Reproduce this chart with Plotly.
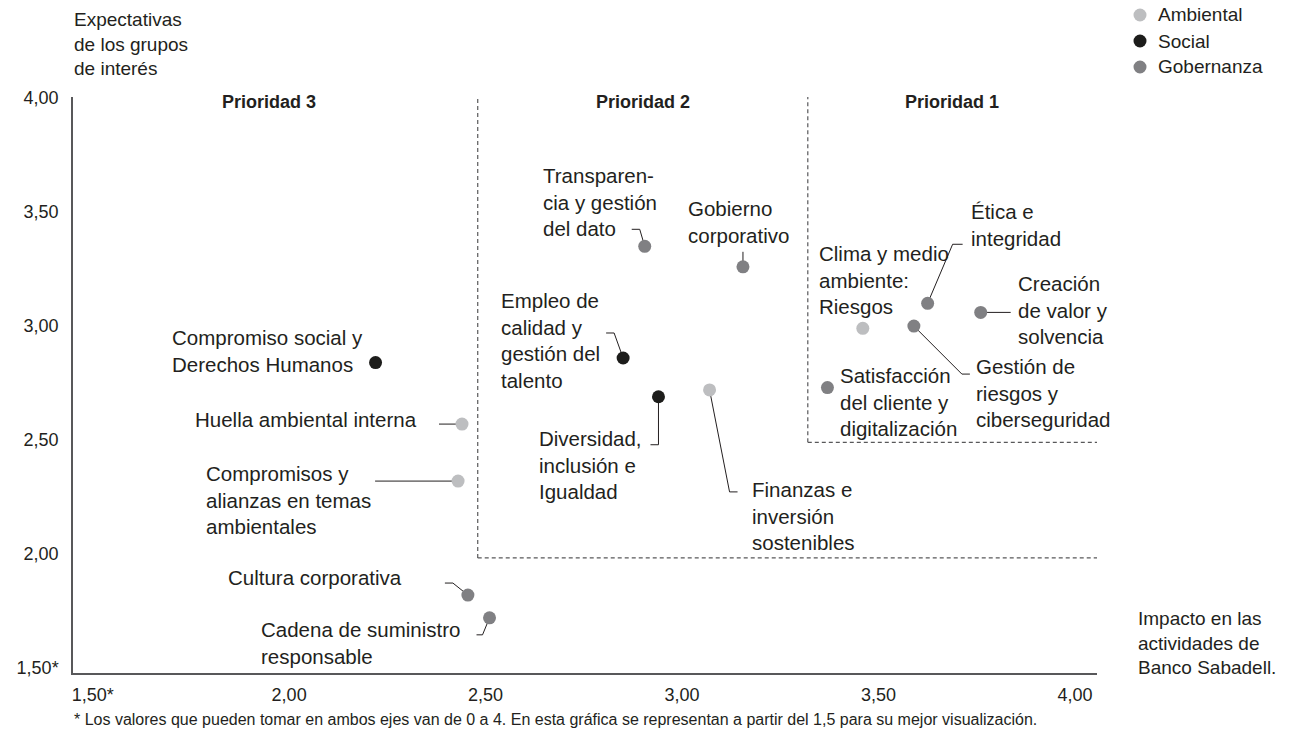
import plotly.graph_objects as go

# --- data -------------------------------------------------------------
dimensiones = ["Ambiental", "Social", "Gobernanza"]
colores = {"Ambiental": "#bdbec0", "Social": "#1d1d1b", "Gobernanza": "#808083"}

asuntos = [
    "Transparencia y gestión del dato",
    "Gobierno corporativo",
    "Ética e integridad",
    "Creación de valor y solvencia",
    "Clima y medio ambiente: Riesgos",
    "Gestión de riesgos y ciberseguridad",
    "Satisfacción del cliente y digitalización",
    "Empleo de calidad y gestión del talento",
    "Diversidad, inclusión e Igualdad",
    "Finanzas e inversión sostenibles",
    "Compromiso social y Derechos Humanos",
    "Huella ambiental interna",
    "Compromisos y alianzas en temas ambientales",
    "Cultura corporativa",
    "Cadena de suministro responsable",
]
impacto = [2.905, 3.155, 3.625, 3.76, 3.46, 3.59, 3.37,
           2.85, 2.94, 3.07, 2.22, 2.44, 2.43, 2.455, 2.51]
expectativas = [3.35, 3.26, 3.10, 3.06, 2.99, 3.00, 2.73,
                2.86, 2.69, 2.72, 2.84, 2.57, 2.32, 1.82, 1.72]
dimension = ["Gobernanza", "Gobernanza", "Gobernanza", "Gobernanza", "Ambiental",
             "Gobernanza", "Gobernanza", "Social", "Social", "Ambiental",
             "Social", "Ambiental", "Ambiental", "Gobernanza", "Gobernanza"]

etiquetas = [
    "Transparen-<br>cia y gestión<br>del dato",
    "Gobierno<br>corporativo",
    "Ética e<br>integridad",
    "Creación<br>de valor y<br>solvencia",
    "Clima y medio<br>ambiente:<br>Riesgos",
    "Gestión de<br>riesgos y<br>ciberseguridad",
    "Satisfacción<br>del cliente y<br>digitalización",
    "Empleo de<br>calidad y<br>gestión del<br>talento",
    "Diversidad,<br>inclusión e<br>Igualdad",
    "Finanzas e<br>inversión<br>sostenibles",
    "Compromiso social y<br>Derechos Humanos",
    "Huella ambiental interna",
    "Compromisos y<br>alianzas en temas<br>ambientales",
    "Cultura corporativa",
    "Cadena de suministro<br>responsable",
]

ticks = [1.5, 2.0, 2.5, 3.0, 3.5, 4.0]
ticks_texto = ["1,50*", "2,00", "2,50", "3,00", "3,50", "4,00"]

# priority zones: (x of left border, y of bottom border)
zona2 = (2.48, 1.983)
zona1 = (3.32, 2.49)
prioridades = ["Prioridad 3", "Prioridad 2", "Prioridad 1"]
prioridades_x = [1.95, 2.90, 3.687]

# --- label placement (pixel offsets from each point) -------------------
# (dx to left edge, dy to block middle, +down)
pos_etiquetas = [
    (-102, -44), (-55, -45), (43, -78), (37, -2), (-44, -48),
    (62, 67), (13, 14), (-122, -17), (-119, 68), (42, 126),
    (-204, -12), (-267, -5), (-252, 19), (-240, -18), (-229, 25),
]
# leader lines as pixel paths from the point (+x right, +y up)
guias = {
    0: [(0, 0), (-5, 17), (-13, 17)],
    1: [(0, 0), (0, 15)],
    2: [(0, 0), (25, 59), (35, 59)],
    3: [(0, 0), (30, 0)],
    5: [(0, 0), (48, -48), (56, -48)],
    7: [(0, 0), (-9, 25), (-17, 25)],
    8: [(0, 0), (0, -48), (-8, -48)],
    9: [(0, 0), (20, -102), (28, -102)],
    11: [(0, 0), (-23, 0)],
    12: [(0, 0), (-83, 0)],
    13: [(0, 0), (-15, 12), (-23, 12)],
    14: [(0, 0), (-7, -17), (-13, -17)],
}

# legend block in paper coordinates (marker x, text x, row y)
leyenda_x_marca = 1.042
leyenda_x_texto = 1.0586
leyenda_y = [1.1424, 1.0972, 1.0521]

FUENTE = "Liberation Sans, Arial, sans-serif"
TEXTO = "#231f20"

fig = go.Figure()

shapes = []
# dashed borders of the priority zones
for (x0, y0) in (zona2, zona1):
    estilo = dict(color="#58585a", width=1.2, dash="4px,3px")
    shapes.append(dict(type="line", xref="x", yref="y", x0=x0, x1=x0,
                       y0=y0, y1=4.01, line=estilo, layer="below"))
    shapes.append(dict(type="line", xref="x", yref="y", x0=x0, x1=4.06,
                       y0=y0, y1=y0, line=estilo, layer="below"))

# leader lines
for i, pts in guias.items():
    path = "M " + " L ".join(f"{px},{py}" for px, py in pts)
    shapes.append(dict(type="path", xref="x", yref="y",
                       xsizemode="pixel", ysizemode="pixel",
                       xanchor=impacto[i], yanchor=expectativas[i],
                       path=path, line=dict(color="#231f20", width=1),
                       layer="below"))

for d in dimensiones:
    idx = [i for i, v in enumerate(dimension) if v == d]
    fig.add_trace(go.Scatter(
        x=[impacto[i] for i in idx],
        y=[expectativas[i] for i in idx],
        mode="markers",
        name=d,
        showlegend=False,
        text=[asuntos[i] for i in idx],
        hovertemplate="%{text}<br>Impacto: %{x:.2f}<br>Expectativas: %{y:.2f}<extra></extra>",
        marker=dict(size=13, color=colores[d]),
        cliponaxis=False,
    ))

annotations = []
for i, txt in enumerate(etiquetas):
    dx, dy = pos_etiquetas[i]
    annotations.append(dict(
        x=impacto[i], y=expectativas[i], xref="x", yref="y",
        text=txt, showarrow=False, xanchor="left", yanchor="middle",
        align="left", xshift=dx - 1, yshift=-dy, borderpad=0,
        font=dict(family=FUENTE, size=20.5, color=TEXTO),
    ))

for t, xp in zip(prioridades, prioridades_x):
    annotations.append(dict(
        x=xp, y=3.985, xref="x", yref="y", text=f"<b>{t}</b>",
        showarrow=False, xanchor="center", yanchor="middle",
        font=dict(family=FUENTE, size=18, color=TEXTO),
    ))

# legend: colour dot + category name
for d, yl in zip(dimensiones, leyenda_y):
    shapes.append(dict(type="circle", xref="paper", yref="paper",
                       xsizemode="pixel", ysizemode="pixel",
                       xanchor=leyenda_x_marca, yanchor=yl,
                       x0=-6.5, x1=6.5, y0=-6.5, y1=6.5,
                       fillcolor=colores[d], line=dict(width=0)))
    annotations.append(dict(
        x=leyenda_x_texto, y=yl, xref="paper", yref="paper", text=d,
        showarrow=False, xanchor="left", yanchor="middle", borderpad=0,
        font=dict(family=FUENTE, size=19, color=TEXTO),
    ))

annotations += [
    dict(x=0, y=1.092, xref="paper", yref="paper",
         text="Expectativas<br>de los grupos<br>de interés",
         showarrow=False, xanchor="left", yanchor="middle", align="left",
         borderpad=0, font=dict(family=FUENTE, size=19, color=TEXTO)),
    dict(x=1.039, y=0.052, xref="paper", yref="paper",
         text="Impacto en las<br>actividades de<br>Banco Sabadell.",
         showarrow=False, xanchor="left", yanchor="middle", align="left",
         borderpad=0, font=dict(family=FUENTE, size=19, color=TEXTO)),
    dict(x=0, y=-0.08, xref="paper", yref="paper",
         text="* Los valores que pueden tomar en ambos ejes van de 0 a 4. "
              "En esta gráfica se representan a partir del 1,5 para su mejor visualización.",
         showarrow=False, xanchor="left", yanchor="middle", align="left",
         borderpad=0, font=dict(family=FUENTE, size=16, color=TEXTO)),
]

fig.update_layout(
    width=1293, height=747,
    margin=dict(l=73, r=196, t=97, b=74, autoexpand=False),
    paper_bgcolor="white", plot_bgcolor="white",
    shapes=shapes, annotations=annotations,
    showlegend=False,
    xaxis=dict(range=[1.45, 4.056], showgrid=False, zeroline=False,
               showline=True, linecolor="#58585a", linewidth=1.5,
               tickvals=ticks, ticktext=ticks_texto,
               ticks="outside", ticklen=5, tickcolor="rgba(0,0,0,0)",
               tickfont=dict(family=FUENTE, size=18, color=TEXTO)),
    yaxis=dict(range=[1.478, 4.005], showgrid=False, zeroline=False,
               showline=True, linecolor="#58585a", linewidth=1.5,
               tickvals=ticks, ticktext=ticks_texto,
               ticks="outside", ticklen=9, tickcolor="rgba(0,0,0,0)",
               tickfont=dict(family=FUENTE, size=18, color=TEXTO)),
)

fig.write_html("out.html")
